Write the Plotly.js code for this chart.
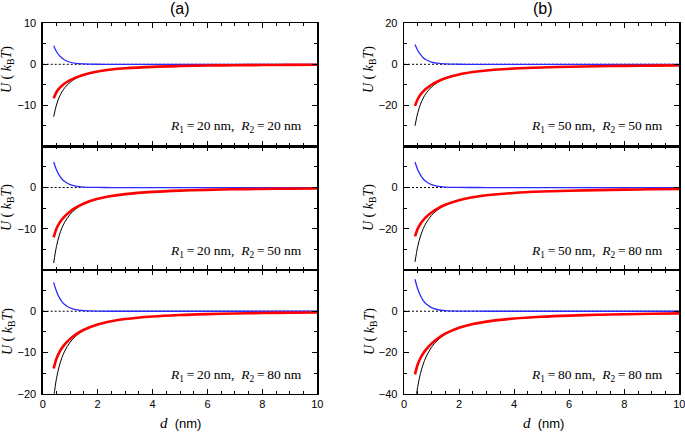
<!DOCTYPE html>
<html>
<head>
<meta charset="utf-8">
<script src="https://cdn.plot.ly/plotly-3.0.1.min.js"></script>
<style>html,body{margin:0;padding:0;background:#fff}</style>
</head>
<body>
<div id="plot" style="width:685px;height:434px"></div>
<script>
// separation d (nm)
const d = [0.4, 0.5, 0.6, 0.7, 0.8, 1.0, 1.2, 1.5, 2, 2.5, 3, 4, 5, 6, 7, 8, 9, 10]

// (a) R1 = 20 nm
const vdwA1 = [-12.8, -9.94, -8.06, -6.73, -5.74, -4.37, -3.48, -2.60, -1.76, -1.28, -0.98, -0.62, -0.43, -0.31, -0.23, -0.18, -0.14, -0.11]
const elA1 = [4.5, 3.12, 2.17, 1.51, 1.05, 0.50, 0.24, 0.08, 0.013, 0.002, 0, 0, 0, 0, 0, 0, 0, 0]
const totA1 = [-8.3, -6.82, -5.89, -5.22, -4.69, -3.87, -3.24, -2.52, -1.75, -1.28, -0.98, -0.62, -0.43, -0.31, -0.23, -0.18, -0.14, -0.11]

const vdwA2 = [-18.3, -14.32, -11.68, -9.81, -8.42, -6.49, -5.22, -3.97, -2.76, -2.05, -1.60, -1.06, -0.75, -0.56, -0.43, -0.34, -0.28, -0.23]
const elA2 = [6.2, 4.30, 2.99, 2.07, 1.44, 0.69, 0.33, 0.11, 0.02, 0, 0, 0, 0, 0, 0, 0, 0, 0]
const totA2 = [-12.1, -10.02, -8.69, -7.74, -6.98, -5.80, -4.89, -3.86, -2.74, -2.05, -1.60, -1.06, -0.75, -0.56, -0.43, -0.34, -0.28, -0.23]

const vdwA3 = [-20.9, -16.38, -13.39, -11.27, -9.68, -7.49, -6.04, -4.62, -3.23, -2.42, -1.90, -1.27, -0.91, -0.69, -0.54, -0.43, -0.35, -0.29]
const elA3 = [7.0, 4.86, 3.37, 2.34, 1.62, 0.78, 0.38, 0.13, 0.02, 0, 0, 0, 0, 0, 0, 0, 0, 0]
const totA3 = [-13.9, -11.52, -10.02, -8.93, -8.06, -6.71, -5.66, -4.49, -3.21, -2.42, -1.90, -1.27, -0.91, -0.69, -0.54, -0.43, -0.35, -0.29]

// (b) R1 = 50 / 80 nm
const vdwB1 = [-30.0, -23.66, -19.44, -16.44, -14.20, -11.08, -9.02, -6.98, -4.97, -3.78, -3.01, -2.07, -1.53, -1.18, -0.94, -0.77, -0.64, -0.54]
const elB1 = [9.7, 6.73, 4.68, 3.24, 2.25, 1.09, 0.52, 0.17, 0.03, 0, 0, 0, 0, 0, 0, 0, 0, 0]
const totB1 = [-20.3, -16.93, -14.76, -13.20, -11.95, -9.99, -8.50, -6.81, -4.94, -3.78, -3.01, -2.07, -1.53, -1.18, -0.94, -0.77, -0.64, -0.54]

const vdwB2 = [-36.1, -28.55, -23.51, -19.92, -17.24, -13.51, -11.03, -8.58, -6.15, -4.72, -3.78, -2.63, -1.96, -1.53, -1.24, -1.02, -0.85, -0.73]
const elB2 = [12.4, 8.61, 5.98, 4.15, 2.88, 1.39, 0.67, 0.22, 0.04, 0.01, 0, 0, 0, 0, 0, 0, 0, 0]
const totB2 = [-23.7, -19.94, -17.53, -15.77, -14.36, -12.12, -10.36, -8.36, -6.11, -4.71, -3.78, -2.63, -1.96, -1.53, -1.24, -1.02, -0.85, -0.73]

const vdwB3 = [-46.1, -36.5, -30.14, -25.59, -22.19, -17.45, -14.30, -11.18, -8.08, -6.24, -5.03, -3.55, -2.68, -2.12, -1.72, -1.43, -1.21, -1.04]
const elB3 = [15.5, 10.76, 7.47, 5.18, 3.60, 1.73, 0.84, 0.28, 0.04, 0.01, 0, 0, 0, 0, 0, 0, 0, 0]
const totB3 = [-30.6, -25.74, -22.67, -20.41, -18.59, -15.72, -13.46, -10.90, -8.04, -6.23, -5.03, -3.55, -2.68, -2.12, -1.72, -1.43, -1.21, -1.04]

const zeroX = [0, 10]
const zeroY = [0, 0]

const panelLabels = [
    ['20', '20'], ['20', '50'], ['20', '80'],
    ['50', '50'], ['50', '80'], ['80', '80']
]
const yTickVals = [
    [10, 0, -10], [0, -10], [0, -10, -20],
    [20, 0, -20], [0, -20], [0, -20, -40]
]

const series = [
    [vdwA1, elA1, totA1], [vdwA2, elA2, totA2], [vdwA3, elA3, totA3],
    [vdwB1, elB1, totB1], [vdwB2, elB2, totB2], [vdwB3, elB3, totB3]
]

const W = 685, H = 434
const colDom = [[42.7 / W, 317.3 / W], [404 / W, 679.3 / W]]
const rowPx = [[23.3, 146.3], [146.3, 270], [270, 393.7]]
const rowDom = rowPx.map(r => [1 - r[1] / H, 1 - r[0] / H])

const tickFont = {family: 'Liberation Sans, Arial', size: 11, color: '#000'}
const serif = 'Liberation Serif, Times New Roman'

let traces = []
let layout = {
    width: W,
    height: H,
    margin: {l: 0, r: 0, t: 0, b: 0},
    paper_bgcolor: '#fff',
    plot_bgcolor: '#fff',
    showlegend: false,
    annotations: []
}

series.forEach((s, i) => {
    let n = i + 1
    let col = i < 3 ? 0 : 1
    let row = i % 3
    let xa = 'x' + (n === 1 ? '' : n)
    let ya = 'y' + (n === 1 ? '' : n)
    traces.push({x: zeroX, y: zeroY, xaxis: xa, yaxis: ya, mode: 'lines',
        line: {color: '#000', width: 1, dash: '2px,2px'}, hoverinfo: 'skip'})
    traces.push({x: d, y: s[0], xaxis: xa, yaxis: ya, mode: 'lines',
        line: {color: '#000', width: 1, shape: 'spline', smoothing: 1}})
    traces.push({x: d, y: s[1], xaxis: xa, yaxis: ya, mode: 'lines',
        line: {color: '#2b2bff', width: 1.3, shape: 'spline', smoothing: 1}})
    traces.push({x: d, y: s[2], xaxis: xa, yaxis: ya, mode: 'lines',
        line: {color: '#ff0000', width: 2.6, shape: 'spline', smoothing: 1}})

    let big = col === 1
    layout['xaxis' + (n === 1 ? '' : n)] = {
        domain: colDom[col], anchor: ya, range: [0, 10],
        tickmode: 'linear', tick0: 0, dtick: 2,
        ticks: 'inside', ticklen: 5, tickwidth: 1, tickcolor: '#000',
        minor: {tick0: 0, dtick: 0.5, ticks: 'inside', ticklen: 3, tickwidth: 1, tickcolor: '#000'},
        showline: true, linecolor: '#000', linewidth: 1.3, mirror: 'ticks',
        showgrid: false, zeroline: false, ticklabeloverflow: 'allow',
        showticklabels: row === 2, tickfont: tickFont
    }
    layout['yaxis' + (n === 1 ? '' : n)] = {
        domain: rowDom[row], anchor: xa, range: big ? [-40, 20] : [-20, 10],
        tickmode: 'array', tickvals: yTickVals[i],
        ticks: 'inside', ticklen: 5, tickwidth: 1, tickcolor: '#000',
        minor: {tick0: 0, dtick: big ? 10 : 5, ticks: 'inside', ticklen: 3, tickwidth: 1, tickcolor: '#000'},
        showline: true, linecolor: '#000', linewidth: 1.3, mirror: 'ticks',
        showgrid: false, zeroline: false, tickfont: tickFont, ticklabelstandoff: 3,
        ticklabeloverflow: 'allow'
    }

    // R1, R2 label
    let labY = [126.7, 251, 375][row]
    layout.annotations.push({
        xref: 'paper', yref: 'paper',
        x: (col === 0 ? 304 : 665) / W, y: 1 - labY / H,
        xanchor: 'right', yanchor: 'middle', showarrow: false,
        font: {family: serif, size: 13.5, color: '#000'},
        text: '<i>R</i><sub>1</sub>&#8201;=&#8201;' + panelLabels[i][0] + ' nm,&nbsp; <i>R</i><sub>2</sub>&#8201;=&#8201;' + panelLabels[i][1] + ' nm'
    })
    // y title
    let titY = [70, 208, 332][row]
    layout.annotations.push({
        xref: 'paper', yref: 'paper',
        x: (col === 0 ? 8 : 370) / W, y: 1 - titY / H,
        xanchor: 'center', yanchor: 'middle', showarrow: false, textangle: -90,
        font: {family: serif, size: 14, color: '#000'},
        text: '<i>U</i> ( <i>k</i><sub>B</sub><i>T</i>)'
    })
})

// panel titles and x titles
;[['(a)', 180], ['(b)', 543]].forEach(([t, px]) => {
    layout.annotations.push({
        xref: 'paper', yref: 'paper', x: px / W, y: 1 - 9 / H,
        xanchor: 'center', yanchor: 'middle', showarrow: false,
        font: {family: 'Liberation Sans, Arial', size: 16, color: '#000'}, text: t
    })
    layout.annotations.push({
        xref: 'paper', yref: 'paper', x: px / W, y: 1 - 423 / H,
        xanchor: 'center', yanchor: 'middle', showarrow: false,
        font: {family: 'Liberation Sans, Arial', size: 13, color: '#000'},
        text: '<span style="font-family:Liberation Serif;font-size:15px"><i>d</i></span>&nbsp; (nm)'
    })
})

Plotly.newPlot('plot', traces, layout, {staticPlot: true})
</script>
</body>
</html>
